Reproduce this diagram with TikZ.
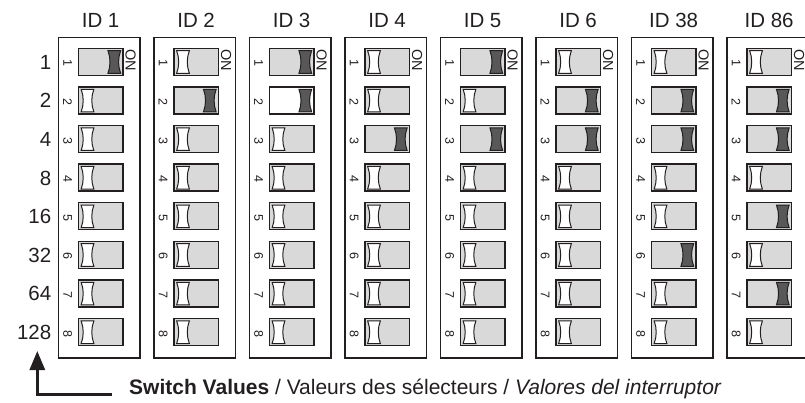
\documentclass[tikz,border=0pt]{standalone}
\usepackage{fontspec}
\setmainfont{Liberation Sans}
\usetikzlibrary{arrows.meta,calc}
\definecolor{ink}{HTML}{231F20}
\definecolor{swgray}{HTML}{D9D9D9}
\definecolor{knobdark}{HTML}{585858}
\tikzset{
  panel/.style={draw=ink,line width=1.6pt,fill=white,rectangle,inner sep=0pt,minimum width=81.7pt,minimum height=320.3pt},
  swbox/.style={draw=ink,line width=1.4pt,rectangle,inner sep=0pt,minimum width=44.4pt,minimum height=27pt},
  knob/.pic={\path[pic actions] (-6.35,-11.3) -- (6.35,-11.3) .. controls (3.6,-4) and (3.6,4) .. (6.35,11.3) -- (-6.35,11.3) .. controls (-3.6,4) and (-3.6,-4) .. (-6.35,-11.3) -- cycle;},
  knobon/.style={draw=ink,line width=1pt,fill=knobdark},
  knoboff/.style={draw=ink,line width=1pt,fill=white},
  hdr/.style={font=\fontsize{20.5}{24}\selectfont,text=ink,inner sep=0pt,anchor=base},
  rowlbl/.style={font=\fontsize{20.5}{24}\selectfont,text=ink,inner sep=0pt,anchor=base east},
  numlbl/.style={font=\fontsize{12.5}{14}\selectfont,text=ink,inner sep=0pt,rotate=-90},
  onlbl/.style={font=\fontsize{14.5}{16}\selectfont,text=ink,inner sep=0pt,rotate=-90},
  caption/.style={font=\fontsize{21}{24}\selectfont,text=ink,inner sep=0pt,anchor=base west},
  arrowline/.style={draw=ink,line width=3pt,-{Triangle[length=19pt,width=15pt]}}
}
\begin{document}
\begin{tikzpicture}[x=1pt,y=-1pt]
\useasboundingbox (0,0) rectangle (805,403);
% row values
\foreach \v [count=\k from 0] in {1,2,4,8,16,32,64,128} {
  \node[rowlbl] (r\v) at (51.5,{61.8+38.6*\k+7.5}) {\v};
}
% panels
\foreach \id/\bits [count=\i from 0] in {
  1/{1,0,0,0,0,0,0,0},
  2/{0,1,0,0,0,0,0,0},
  3/{1,2,0,0,0,0,0,0},
  4/{0,0,1,0,0,0,0,0},
  5/{1,0,1,0,0,0,0,0},
  6/{0,1,1,0,0,0,0,0},
  38/{0,1,1,0,0,1,0,0},
  86/{0,1,1,0,1,0,1,0}} {
  \pgfmathsetmacro\L{58.3+95.5*\i}
  \node[panel] (p\i) at (\L+40.85,197.85) {};
  \node[hdr] (h\i) at (\L+42.3,28) {ID \id};
  \node[onlbl] (on\i) at (\L+72.2,60.2) {ON};
  \foreach \b [count=\k] in \bits {
    \pgfmathsetmacro\cy{61.8+38.6*(\k-1)}
    \ifnum\b=2 \def\swfill{white}\else\def\swfill{swgray}\fi
    \node[swbox,fill=\swfill] (s\i-\k) at (\L+42.5,\cy) {};
    \node[numlbl] (n\i-\k) at (\L+9.3,\cy+1.5) {\k};
    \ifnum\b>0
      \pic[knobon] at ($(s\i-\k.center)+(13.5,0.2)$) {knob};
    \else
      \pic[knoboff] at ($(s\i-\k.center)+(-13.3,0.2)$) {knob};
    \fi
  }
}
% caption and arrow
\node[caption] (cap) at (129,394.5) {\textbf{Switch Values} / Valeurs des sélecteurs / \textit{Valores del interruptor}};
\coordinate (a0) at (111.7,394);
\coordinate (a1) at (37.3,351);
\draw[arrowline] (a0) -| (a1);
\end{tikzpicture}
\end{document}
